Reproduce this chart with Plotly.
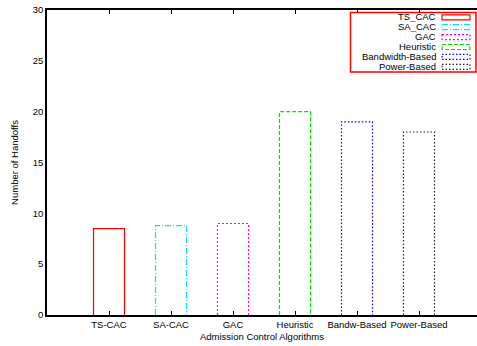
import plotly.graph_objects as go

categories = ["TS-CAC", "SA-CAC", "GAC", "Heuristic", "Bandw-Based", "Power-Based"]
series_names = ["TS_CAC", "SA_CAC", "GAC", "Heuristic", "Bandwidth-Based", "Power-Based"]
values = [8.5, 8.8, 9.0, 20.0, 19.0, 18.0]
colors = ["#ff0000", "#00e8e8", "#ff00ff", "#00e000", "#0000ff", "#222222"]
dashes = ["solid", "6px,2px,1px,2px", "2px,2px", "4px,2px", "1.5px,2px", "1.5px,2px"]
yticks = [0, 5, 10, 15, 20, 25, 30]

W, H = 477, 346
ML, MT, MB, MR = 47, 10, 31, 0
PW, PH = W - ML - MR, H - MT - MB
BAR_W = 0.5

fig = go.Figure()
for i, (name, v, c, d) in enumerate(zip(series_names, values, colors, dashes)):
    xc = i + 1
    fig.add_trace(go.Scatter(
        x=[xc - BAR_W / 2, xc - BAR_W / 2, xc + BAR_W / 2, xc + BAR_W / 2],
        y=[0, v, v, 0],
        mode="lines", name=name, showlegend=False,
        line=dict(color=c, width=1.2, dash=d), hoverinfo="skip",
    ))


def px2x(p):
    return (p - ML) / PW


def px2y(p):
    return (H - MB - p) / PH


shapes = []
annotations = []
# legend box
shapes.append(dict(type="rect", xref="paper", yref="paper",
                   x0=px2x(350.5), x1=px2x(476), y0=px2y(12.5), y1=px2y(72),
                   line=dict(color="#ff0000", width=1.5), fillcolor="white", layer="above"))
for k, (name, c, d) in enumerate(zip(series_names, colors, dashes)):
    cy = 17.3 + k * 9.9
    shapes.append(dict(type="rect", xref="paper", yref="paper",
                       x0=px2x(442), x1=px2x(470), y0=px2y(cy - 2.5), y1=px2y(cy + 2.5),
                       line=dict(color=c, width=1.2, dash=d), layer="above"))
    annotations.append(dict(text=name, xref="paper", yref="paper",
                            x=px2x(437), y=px2y(cy), xanchor="right", yanchor="middle",
                            height=9.8, valign="middle", borderpad=0,
                            showarrow=False, font=dict(size=9.5, color="black")))

fig.update_layout(
    width=W, height=H,
    margin=dict(l=ML, r=MR, t=MT, b=MB, pad=0),
    paper_bgcolor="white", plot_bgcolor="white",
    font=dict(family="Liberation Sans, Arial, sans-serif", size=9, color="black"),
    showlegend=False,
    shapes=shapes, annotations=annotations,
    xaxis=dict(
        range=[0, PW / 62.0],
        tickmode="array", tickvals=list(range(1, len(categories) + 1)), ticktext=categories,
        showgrid=False, zeroline=False,
        showline=True, linecolor="black", linewidth=1.5, mirror="ticks",
        ticks="inside", ticklen=4, tickcolor="black", tickwidth=1,
        tickfont=dict(size=9.5),
        title=dict(text="Admission Control Algorithms", font=dict(size=9.5), standoff=4),
    ),
    yaxis=dict(
        range=[0, 30], tickmode="array", tickvals=yticks,
        showgrid=False, zeroline=False,
        showline=True, linecolor="black", linewidth=1.5, mirror=False,
        ticks="", tickfont=dict(size=9.5),
        title=dict(text="Number of Handoffs", font=dict(size=9.5), standoff=12),
    ),
)

fig.write_html("out.html", config={"displayModeBar": False},
               post_script="document.body.style.margin='0';document.body.style.overflow='hidden';")
